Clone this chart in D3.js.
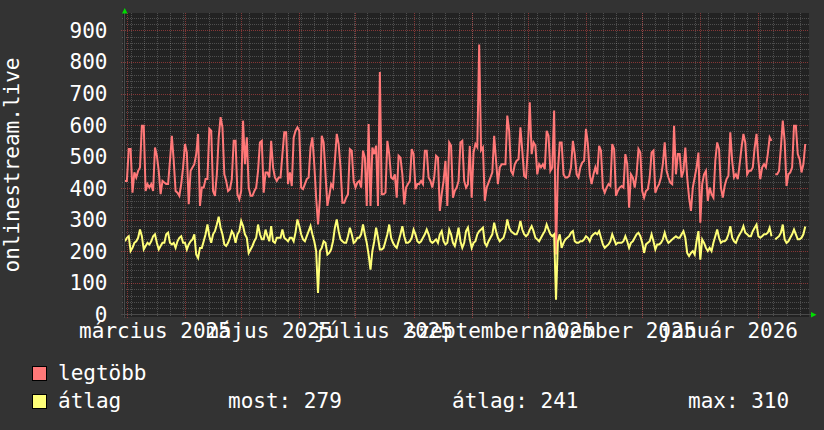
<!DOCTYPE html>
<html>
<head>
<meta charset="utf-8">
<script src="https://cdn.jsdelivr.net/npm/d3@7/dist/d3.min.js"></script>
<style>
html, body { margin: 0; padding: 0; background: #333333; }
svg { display: block; }
text { font-family: "DejaVu Sans Mono", monospace; fill: #ffffff; }
</style>
</head>
<body>
<div id="chart"></div>
<script>

// daily samples, first one on 2025-02-28
var firstDay = Date.UTC(2025, 1, 28);

var legtobb = [
  // march - may
  423, 423, 524, 524, 386, 450, 434, 455, 466, 598,
  598, 391, 413, 402, 413, 391, 529, 503, 455, 381,
  423, 418, 413, 413, 487, 566, 487, 391, 386, 376,
  413, 466, 540, 513, 349, 455, 466, 476, 508, 572,
  344, 402, 402, 429, 429, 588, 582, 391, 376, 444,
  561, 625, 593, 444, 423, 391, 397, 429, 550, 550,
  381, 365, 391, 614, 476, 561, 402, 376, 376, 391,
  402, 455, 545, 550, 386, 450, 450, 434, 550, 466,
  434, 423, 434, 434, 508, 577, 577, 413, 450, 407,
  560, 582, 593,
  // june - august
  582, 402, 397, 413, 429, 434, 529, 561, 476, 370,
  285, 365, 566, 545, 444, 344, 376, 413, 402, 487,
  572, 540, 466, 354, 354, 370, 381, 524, 519, 423,
  402, 418, 423, 402, 519, 497, 344, 603, 344, 529,
  508, 535, 344, 768, 381, 381, 386, 550, 508, 434,
  429, 444, 370, 503, 497, 444, 349, 402, 413, 423,
  524, 508, 397, 413, 413, 423, 413, 519, 519, 434,
  423, 402, 434, 503, 497, 328, 381, 423, 487, 344,
  545, 535, 370, 392, 402, 423, 545, 550, 423, 402,
  413,
  // august - november
  534, 370, 513, 540, 530, 855, 520, 529, 360, 402,
  418, 434, 450, 566, 487, 413, 466, 476, 476, 476,
  630, 582, 455, 444, 476, 487, 492, 593, 519, 439,
  434, 529, 672, 508, 545, 535, 444, 476, 466, 476,
  460, 582, 566, 455, 466, 646, 190, 455, 545, 545,
  444, 434, 434, 439, 466, 550, 508, 444, 434, 466,
  481, 487, 588, 540, 444, 413, 444, 466, 444, 534,
  519, 402, 386, 402, 413, 407, 540, 524, 376, 392,
  402, 407, 402, 508, 476, 338, 444, 434, 402, 444,
  // december - february
  524, 513, 391, 370, 391, 397, 434, 513, 519, 386,
  402, 413, 434, 476, 545, 455, 434, 418, 413, 598,
  444, 508, 508, 434, 455, 529, 434, 370, 328, 402,
  434, 466, 513, 291, 413, 444, 455, 360, 402, 381,
  370, 487, 545, 524, 402, 370, 407, 429, 439, 577,
  487, 434, 444, 429, 476, 529, 572, 545, 444, 455,
  455, 466, 529, 572, 487, 429, 466, 476, 466, 508,
  561, 550, null, 444, 444, 455, 529, 614, 550, 407,
  444, 450, 466, 598, 598, 508, 492, 450, 476, 540
];

var atlag = [
  232, 243, 248, 201, 211, 227, 232, 243, 269, 248,
  206, 217, 227, 222, 232, 248, 254, 227, 206, 217,
  227, 227, 254, 259, 227, 222, 227, 211, 232, 243,
  248, 227, 227, 206, 222, 232, 238, 254, 190, 179,
  211, 211, 232, 254, 285, 248, 227, 254, 264, 285,
  310, 275, 254, 222, 217, 227, 243, 264, 254, 227,
  254, 264, 296, 280, 254, 243, 195, 206, 217, 232,
  243, 285, 254, 238, 238, 269, 248, 232, 280, 232,
  227, 243, 243, 243, 269, 243, 238, 232, 243, 243,
  232, 260, 301,

  280, 254, 238, 232, 248, 264, 280, 254, 232, 201,
  68, 201, 211, 232, 227, 190, 195, 206, 232, 275,
  301, 264, 238, 232, 227, 227, 248, 275, 254, 227,
  232, 243, 243, 254, 285, 254, 227, 190, 142, 201,
  232, 275, 243, 206, 206, 211, 232, 254, 285, 243,
  227, 217, 211, 232, 254, 280, 248, 227, 227, 232,
  243, 269, 254, 232, 227, 232, 243, 254, 269, 254,
  232, 227, 232, 238, 227, 254, 264, 232, 222, 227,
  269, 254, 227, 217, 243, 275, 232, 211, 227, 264,
  275,

  238, 211, 227, 232, 254, 264, 269, 275, 227, 217,
  232, 243, 254, 291, 264, 243, 232, 238, 243, 264,
  301, 275, 264, 259, 254, 254, 269, 296, 269, 254,
  248, 254, 269, 280, 264, 243, 238, 232, 243, 254,
  264, 285, 269, 254, 248, 254, 47, 232, 254, 211,
  227, 238, 243, 248, 259, 264, 232, 227, 227, 232,
  232, 238, 248, 243, 232, 248, 254, 259, 254, 264,
  243, 222, 211, 217, 222, 232, 254, 238, 222, 227,
  227, 227, 232, 248, 232, 211, 227, 232, 243, 254,

  259, 248, 227, 195, 222, 227, 232, 254, 232, 206,
  222, 222, 227, 238, 259, 238, 227, 232, 238, 243,
  248, 243, 243, 254, 264, 243, 195, 185, 195, 201,
  190, 232, 264, 174, 238, 227, 211, 201, 211, 201,
  227, 248, 269, 243, 227, 232, 232, 238, 254, 280,
  243, 232, 227, 243, 254, 264, 280, 259, 254, 248,
  248, 264, 275, 285, 248, 243, 248, 254, 254, 259,
  275, 248, null, 238, 243, 248, 259, 285, 238, 227,
  232, 243, 254, 269, 254, 238, 238, 243, 254, 279
];

var yTicks = [0, 100, 200, 300, 400, 500, 600, 700, 800, 900];
var monthNames = ["január", "február", "március", "április", "május", "június",
  "július", "augusztus", "szeptember", "október", "november", "december"];
var seriesNames = ["legtöbb", "átlag"];
var statTexts = ["most: 279", "átlag: 241", "max: 310"];
var yTitle = "onlinestream.live";

var W = 824, H = 430;
var DAY = 864e5;
var redColor = "#ff7878", yellowColor = "#ffff78";

var svg = d3.select("#chart").append("svg")
  .attr("width", W)
  .attr("height", H);

svg.append("rect").attr("width", W).attr("height", H).attr("fill", "#333333");

var t0 = new Date(firstDay), t1 = new Date(firstDay + 365 * DAY);
var x = d3.scaleUtc().domain([t0, t1]).range([125, 809]);
var y = d3.scaleLinear().domain([0, 955]).range([314.5, 13]);

// canvas
svg.append("rect")
  .attr("x", 123).attr("y", 13)
  .attr("width", 809 - 123).attr("height", 317 - 13)
  .attr("fill", "#222222");

var grid = svg.append("g").attr("shape-rendering", "crispEdges");

// minor grid: weeks and every 20
d3.utcMonday.range(t0, t1).forEach(function(d) {
  var xx = Math.round(x(d)) + 0.5;
  grid.append("line")
    .attr("x1", xx).attr("x2", xx).attr("y1", 13).attr("y2", 317)
    .attr("stroke", "rgba(255,255,255,0.2)").attr("stroke-dasharray", "1,1");
});
d3.range(20, 955, 20).forEach(function(v) {
  if (v % 100 === 0) return;
  var yy = Math.round(y(v)) + 0.5;
  grid.append("line")
    .attr("x1", 122).attr("x2", 809).attr("y1", yy).attr("y2", yy)
    .attr("stroke", "rgba(255,255,255,0.2)").attr("stroke-dasharray", "1,1");
});

// major grid: months and every 100
d3.utcMonth.range(t0, t1).forEach(function(d) {
  var xx = Math.round(x(d)) + 0.5;
  grid.append("line")
    .attr("x1", xx).attr("x2", xx).attr("y1", 13).attr("y2", 318)
    .attr("stroke", "rgba(255,80,80,0.45)").attr("stroke-dasharray", "1,1");
});
yTicks.forEach(function(v) {
  if (v === 0) return;
  var yy = Math.round(y(v)) + 0.5;
  grid.append("line")
    .attr("x1", 121).attr("x2", 809).attr("y1", yy).attr("y2", yy)
    .attr("stroke", "rgba(255,80,80,0.45)").attr("stroke-dasharray", "1,1");
});

// y labels
svg.append("g").selectAll("text")
  .data(yTicks)
  .enter().append("text")
    .attr("x", 107.5)
    .attr("y", function(d) { return y(d) + 7.5; })
    .attr("text-anchor", "end")
    .style("font-size", "21px")
    .text(function(d) { return d; });

// x labels, centered half a month after the month start
svg.append("g").selectAll("text")
  .data(d3.utcMonth.every(2).range(t0, t1))
  .enter().append("text")
    .attr("x", function(d) { return x(new Date(+d + 15 * DAY)); })
    .attr("y", 338)
    .attr("text-anchor", "middle")
    .style("font-size", "21px")
    .text(function(d) { return monthNames[d.getUTCMonth()] + " " + d.getUTCFullYear(); });

// y title
svg.append("text")
  .attr("transform", "translate(19,165) rotate(-90)")
  .attr("text-anchor", "middle")
  .style("font-size", "21px")
  .text(yTitle);

// lines
function dayOf(i) { return new Date(firstDay + i * DAY); }
var line = d3.line()
  .defined(function(d) { return d != null; })
  .x(function(d, i) { return x(dayOf(i)); })
  .y(function(d) { return y(d); });

svg.append("path").datum(legtobb)
  .attr("d", line)
  .attr("fill", "none")
  .attr("stroke", redColor)
  .attr("stroke-width", 2)
  .attr("stroke-linejoin", "miter");

svg.append("path").datum(atlag)
  .attr("d", line)
  .attr("fill", "none")
  .attr("stroke", yellowColor)
  .attr("stroke-width", 2)
  .attr("stroke-linejoin", "miter");

// axes with arrows
svg.append("line")
  .attr("x1", 121).attr("x2", 812).attr("y1", 314.5).attr("y2", 314.5)
  .attr("stroke", "#4a4a4a").attr("stroke-width", 1);
svg.append("line")
  .attr("x1", 124.5).attr("x2", 124.5).attr("y1", 318).attr("y2", 10)
  .attr("stroke", "#4a4a4a").attr("stroke-width", 1);
svg.append("path")
  .attr("d", "M811,312L816.5,314.75L811,317.5Z")
  .attr("fill", "#00dd00");
svg.append("path")
  .attr("d", "M122,13.5L124.75,8L127.5,13.5Z")
  .attr("fill", "#00dd00");

// legend
var legend = svg.append("g");
[redColor, yellowColor].forEach(function(c, i) {
  legend.append("rect")
    .attr("x", 32.5).attr("y", 366.5 + i * 28)
    .attr("width", 14).attr("height", 14)
    .attr("fill", c).attr("stroke", "#000000");
  legend.append("text")
    .attr("x", 58).attr("y", 380 + i * 28)
    .style("font-size", "21px")
    .text(seriesNames[i]);
});
[228, 452, 688].forEach(function(xx, i) {
  legend.append("text")
    .attr("x", xx).attr("y", 408)
    .style("font-size", "21px")
    .text(statTexts[i]);
});

</script>
</body>
</html>
